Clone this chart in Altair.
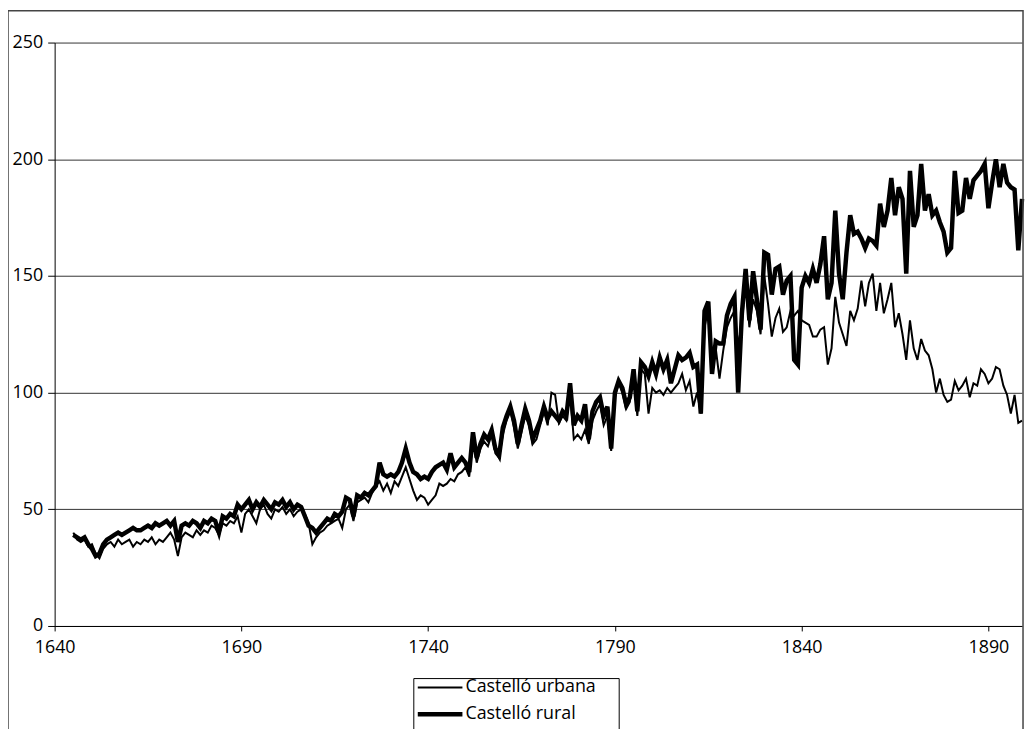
import altair as alt
import pandas as pd

# ---- data ----
first_year = 1645
last_year = 1899

rural = [
    39, 38, 37, 38, 35,                              # 1645-1649
    33, 30, 31, 35, 37, 38, 39, 40, 39, 40,          # 1650s
    41, 42, 41, 41, 42, 43, 42, 44, 43, 44,          # 1660s
    45, 43, 45, 36, 43, 44, 43, 45, 44, 42,          # 1670s
    45, 44, 46, 45, 40, 47, 46, 48, 47, 52,          # 1680s
    50, 52, 54, 50, 53, 51, 54, 52, 50, 53,          # 1690s
    52, 54, 51, 53, 50, 52, 51, 47, 43, 42,          # 1700s
    40, 42, 44, 46, 45, 48, 47, 49, 55, 54,          # 1710s
    47, 56, 55, 57, 56, 58, 60, 70, 65, 64,          # 1720s
    65, 64, 66, 70, 76, 70, 66, 65, 63, 64,          # 1730s
    63, 66, 68, 69, 70, 67, 74, 68, 70, 72,          # 1740s
    70, 66, 83, 72, 78, 82, 80, 84, 76, 73,          # 1750s
    85, 90, 94, 88, 78, 86, 93, 88, 80, 84,          # 1760s
    88, 94, 89, 92, 90, 88, 92, 90, 104, 86,         # 1770s
    90, 88, 95, 80, 92, 96, 98, 90, 94, 76,          # 1780s
    100, 105, 102, 95, 98, 110, 92, 113, 111, 107,   # 1790s
    113, 108, 115, 110, 114, 104, 110, 116, 114, 115,  # 1800s
    117, 111, 112, 91, 135, 139, 108, 122, 121, 121,   # 1810s
    133, 138, 141, 100, 134, 153, 131, 152, 140, 127,  # 1820s
    160, 159, 142, 153, 154, 142, 148, 150, 114, 112,  # 1830s
    145, 150, 147, 153, 147, 155, 167, 140, 147, 178,  # 1840s
    151, 140, 160, 176, 168, 169, 166, 162, 166, 165,  # 1850s
    163, 181, 171, 178, 192, 176, 188, 183, 151, 195,  # 1860s
    171, 176, 198, 178, 185, 176, 178, 173, 169, 160,  # 1870s
    162, 195, 177, 178, 192, 183, 191, 193, 195, 198,  # 1880s
    179, 190, 200, 188, 198, 190, 188, 187, 161, 183,  # 1890s
]

urbana = [
    40, 37, 36, 37, 34,                              # 1645-1649
    35, 31, 29, 33, 35, 36, 34, 37, 35, 36,          # 1650s
    37, 34, 36, 35, 37, 36, 38, 35, 37, 36,          # 1660s
    38, 40, 37, 30, 38, 40, 39, 38, 41, 39,          # 1670s
    41, 40, 43, 42, 39, 44, 43, 45, 44, 47,          # 1680s
    40, 48, 50, 47, 44, 50, 52, 48, 46, 50,          # 1690s
    49, 51, 48, 50, 47, 49, 50, 48, 44, 35,          # 1700s
    38, 40, 41, 43, 44, 45, 46, 42, 50, 52,          # 1710s
    45, 53, 54, 55, 53, 57, 60, 62, 58, 61,          # 1720s
    57, 62, 60, 64, 68, 63, 58, 54, 56, 55,          # 1730s
    52, 54, 56, 61, 60, 61, 63, 62, 65, 66,          # 1740s
    68, 64, 80, 70, 76, 79, 77, 82, 74, 72,          # 1750s
    82, 88, 92, 85, 76, 83, 90, 86, 78, 80,          # 1760s
    86, 92, 86, 100, 99, 87, 90, 88, 100, 80,        # 1770s
    82, 80, 84, 78, 88, 92, 95, 86, 90, 75,          # 1780s
    98, 104, 100, 93, 96, 108, 90, 110, 108, 91,     # 1790s
    102, 100, 101, 99, 102, 100, 102, 104, 108, 101,   # 1800s
    105, 94, 100, 91, 128, 136, 110, 119, 106, 118,    # 1810s
    128, 132, 135, 120, 130, 148, 128, 140, 135, 125,  # 1820s
    150, 138, 124, 132, 136, 126, 128, 135, 133, 135,  # 1830s
    131, 130, 129, 124, 124, 127, 128, 112, 119, 141,  # 1840s
    130, 125, 120, 135, 131, 136, 148, 137, 147, 151,  # 1850s
    135, 147, 134, 140, 147, 128, 134, 125, 114, 131,  # 1860s
    119, 114, 123, 118, 116, 110, 100, 106, 99, 96,    # 1870s
    97, 105, 101, 103, 106, 98, 104, 103, 110, 108,    # 1880s
    104, 106, 111, 110, 103, 99, 91, 99, 87, 88,       # 1890s
]

series_names = ["Castelló urbana", "Castelló rural"]
series_widths = [2, 4.5]
x_ticks = [1640, 1690, 1740, 1790, 1840, 1890]
y_ticks = [0, 50, 100, 150, 200, 250]

years = list(range(first_year, last_year + 1))

df = pd.DataFrame({
    "any": years + years,
    "valor": urbana + rural,
    "serie": [series_names[0]] * len(years) + [series_names[1]] * len(years),
})

FONT = "Open Sans"
W, H = 975, 588
one = pd.DataFrame({"k": [0]})

lines = alt.Chart(df).mark_line(color="black", strokeJoin="miter").encode(
    x=alt.X(
        "any:Q",
        scale=alt.Scale(domain=[1640, 1899], nice=False, zero=False),
        axis=alt.Axis(
            values=x_ticks, format="d", title=None, grid=False,
            domainColor="black", tickColor="black", tickSize=5,
            labelFontSize=18, labelFont=FONT, labelColor="black",
            labelPadding=8, labelFlush=False,
        ),
    ),
    y=alt.Y(
        "valor:Q",
        scale=alt.Scale(domain=[0, 250], nice=False),
        axis=alt.Axis(
            values=y_ticks, title=None, grid=True,
            gridColor="#333333", gridWidth=1,
            domainColor="black", tickColor="black", tickSize=7,
            labelFontSize=18, labelFont=FONT, labelColor="black",
            labelPadding=5,
        ),
    ),
    strokeWidth=alt.StrokeWidth(
        "serie:N",
        scale=alt.Scale(domain=series_names, range=series_widths),
        legend=None,
    ),
)

frame = alt.Chart(one).mark_rect(
    fill=None, stroke="#444444", strokeWidth=1.5
).encode(
    x=alt.value(-47), x2=alt.value(W + 1),
    y=alt.value(-32), y2=alt.value(H + 140),
)

# legend box (Excel style), drawn below the plot
LX, LY, ROW = 362, 641, 27
legend_box = alt.Chart(one).mark_rect(
    fill="white", stroke="black", strokeWidth=1
).encode(
    x=alt.value(LX), x2=alt.value(LX + 207),
    y=alt.value(LY), y2=alt.value(LY + 90),
)

legend_layers = [legend_box]
for i, (name, sw) in enumerate(zip(series_names, series_widths)):
    yc = LY + 9 + ROW * i
    legend_layers.append(
        alt.Chart(one).mark_rule(color="black", strokeWidth=sw).encode(
            x=alt.value(LX + 4), x2=alt.value(LX + 49), y=alt.value(yc)
        )
    )
    legend_layers.append(
        alt.Chart(one).mark_text(
            align="left", baseline="middle", font=FONT, fontSize=18, color="black"
        ).encode(x=alt.value(LX + 52), y=alt.value(yc), text=alt.value(name))
    )

chart = alt.layer(lines, frame, *legend_layers).properties(
    width=W, height=H,
    autosize=alt.AutoSizeParams(type="none"),
    padding={"left": 47, "top": 32, "right": 4, "bottom": 101},
    background="white",
).configure_view(strokeWidth=0)

chart.save("out.html", embed_options={"renderer": "svg", "actions": False})
